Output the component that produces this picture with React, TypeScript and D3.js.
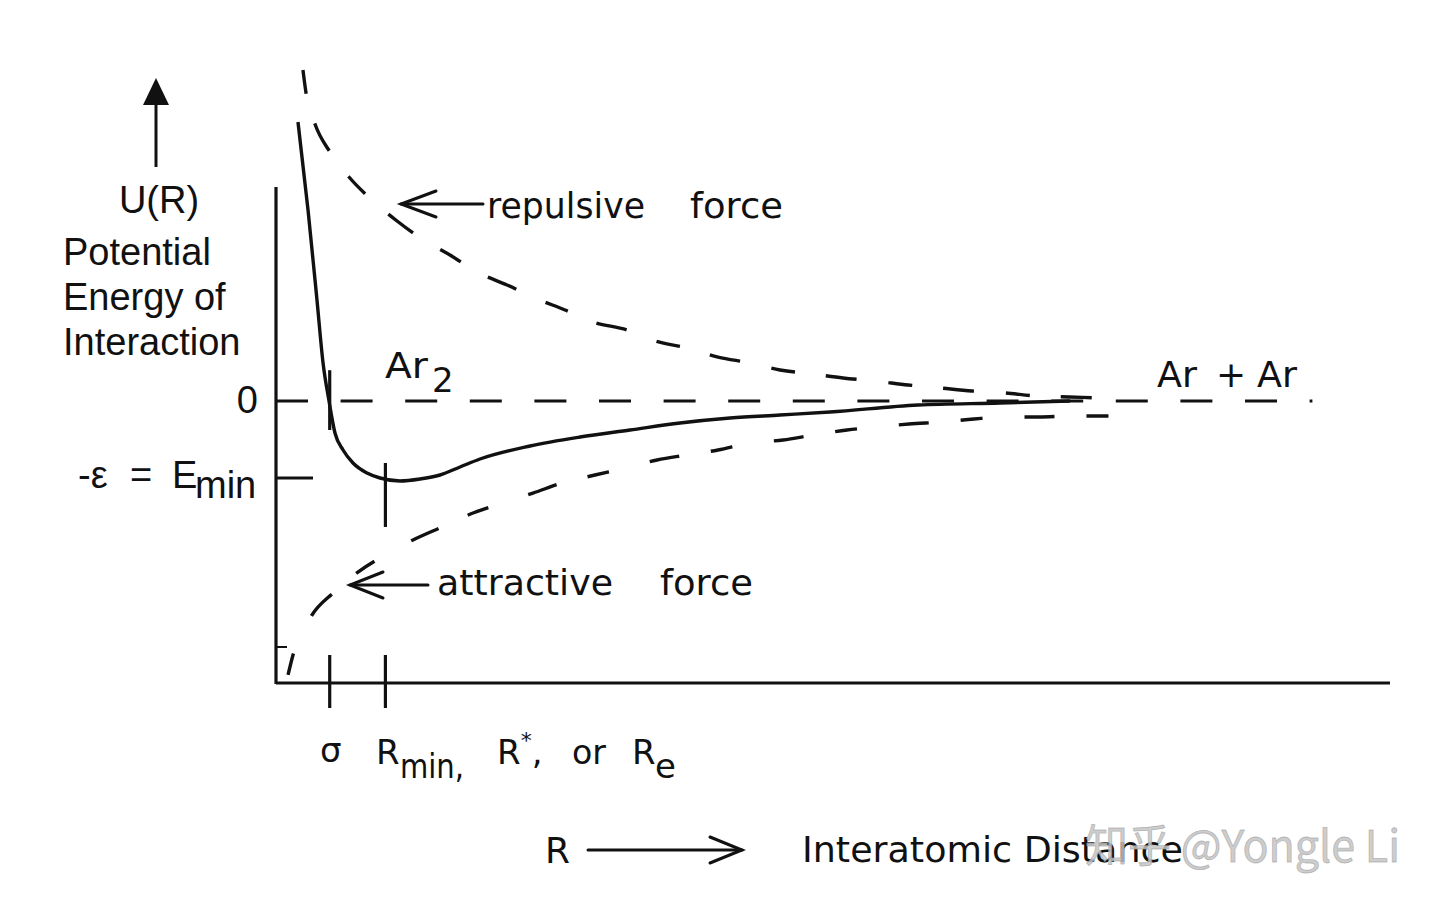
import React from "react";
import * as d3 from "d3";

// Interatomic distance R (Å-like units) and energy U (in units of ε)
const potentialR = [3.021, 3.122, 3.212, 3.273, 3.333, 3.393, 3.474, 3.574, 3.715, 3.846, 4.047, 4.248, 4.449, 4.65, 4.851, 5.354, 5.857, 6.359, 6.862, 7.365, 7.867, 8.37, 9.255, 10.079, 10.783];
const potentialU = [3.623, 2.481, 1.312, 0.494, 0.0, -0.416, -0.636, -0.805, -0.935, -1.0, -1.039, -1.013, -0.961, -0.857, -0.753, -0.584, -0.468, -0.377, -0.286, -0.221, -0.182, -0.143, -0.052, -0.026, 0.0];

const repulsiveR = [3.071, 3.102, 3.192, 3.343, 3.534, 3.765, 4.017, 4.268, 4.549, 4.821, 5.123, 5.404, 5.706, 5.987, 6.329, 6.611, 6.932, 7.244, 7.566, 7.867, 8.199, 8.501, 8.823, 9.154, 9.476, 9.798, 10.13, 10.451, 10.773, 11.095];
const repulsiveU = [4.299, 4.0, 3.597, 3.234, 2.909, 2.61, 2.338, 2.104, 1.896, 1.675, 1.506, 1.338, 1.182, 1.026, 0.922, 0.779, 0.688, 0.571, 0.494, 0.403, 0.351, 0.299, 0.26, 0.208, 0.169, 0.13, 0.104, 0.065, 0.052, 0.039];

const attractiveR = [2.921, 2.971, 3.162, 3.373, 3.624, 3.896, 4.177, 4.469, 4.781, 5.072, 5.384, 5.676, 6.007, 6.309, 6.631, 6.932, 7.244, 7.566, 7.898, 8.199, 8.541, 8.843, 9.164, 9.496, 9.818, 10.14, 10.471, 10.793, 11.316];
const attractiveU = [-3.558, -3.299, -2.779, -2.494, -2.221, -2.0, -1.805, -1.636, -1.455, -1.325, -1.195, -1.065, -0.961, -0.87, -0.766, -0.701, -0.636, -0.545, -0.506, -0.442, -0.377, -0.338, -0.299, -0.273, -0.234, -0.208, -0.208, -0.195, -0.195];

const zeroLineR = [2.8, 13.22];
const sigmaR = 3.34;
const rMinR = 3.9;
const epsU = -1;

const xDomain = [2.8, 14];
const uDomain = [-1, 0];

const yLabelLines = ["Potential", "Energy of", "Interaction"];

const LEFT = 276;
const RIGHT = 1390;
const AXIS_Y = 683;
const AXIS_TOP = 187;

export default function App() {
  const x = d3.scaleLinear().domain(xDomain).range([LEFT, RIGHT]);
  const y = d3.scaleLinear().domain(uDomain).range([478, 401]);

  const zip = (a: number[], b: number[]) => a.map((v, i) => [v, b[i]] as [number, number]);

  const smooth = d3
    .line<[number, number]>()
    .x((d) => x(d[0]))
    .y((d) => y(d[1]))
    .curve(d3.curveMonotoneX);

  const potential = smooth(zip(potentialR, potentialU)) || "";
  const repulsive = smooth(zip(repulsiveR, repulsiveU)) || "";
  const attractive = smooth(zip(attractiveR, attractiveU)) || "";
  const zero = smooth(zeroLineR.map((r) => [r, 0] as [number, number])) || "";

  const sans = "'Liberation Sans', Arial, sans-serif";
  const geo = "'DejaVu Sans', sans-serif";
  const stroke = "#111";

  const xs = x(sigmaR);
  const xr = x(rMinR);

  return (
    <svg
      width={1436}
      height={910}
      style={{ position: "absolute", left: 0, top: 0, background: "#fff" }}
    >
      <rect x={0} y={0} width={1436} height={910} fill="#fff" />

      {/* axes */}
      <line x1={LEFT} y1={AXIS_TOP} x2={LEFT} y2={AXIS_Y + 1} stroke={stroke} strokeWidth={3.2} />
      <line x1={LEFT} y1={AXIS_Y} x2={RIGHT} y2={AXIS_Y} stroke={stroke} strokeWidth={3.2} />
      <line x1={LEFT} y1={647} x2={LEFT + 11} y2={647} stroke={stroke} strokeWidth={2} />

      {/* zero line */}
      <path d={zero} fill="none" stroke={stroke} strokeWidth={3.2} strokeDasharray="32 32.6" />

      {/* -epsilon tick */}
      <line x1={LEFT} y1={y(epsU)} x2={LEFT + 37} y2={y(epsU)} stroke={stroke} strokeWidth={3.2} />

      {/* sigma and Rmin ticks */}
      <line x1={xs} y1={y(0.4)} x2={xs} y2={y(-0.377)} stroke={stroke} strokeWidth={3.2} />
      <line x1={xr} y1={y(-0.805)} x2={xr} y2={y(-1.636)} stroke={stroke} strokeWidth={3.2} />
      <line x1={xs} y1={AXIS_Y - 28} x2={xs} y2={AXIS_Y + 25} stroke={stroke} strokeWidth={3.2} />
      <line x1={xr} y1={AXIS_Y - 28} x2={xr} y2={AXIS_Y + 25} stroke={stroke} strokeWidth={3.2} />

      {/* curves */}
      <path d={repulsive} fill="none" stroke={stroke} strokeWidth={3.4} strokeDasharray="24 31 31 32" />
      <path d={attractive} fill="none" stroke={stroke} strokeWidth={3.4} strokeDasharray="22 42 30 32" />
      <path d={potential} fill="none" stroke={stroke} strokeWidth={3.4} />

      {/* up arrow */}
      <line x1={156} y1={167} x2={156} y2={100} stroke={stroke} strokeWidth={3} />
      <polygon points="156,78 143,105 169,105" fill={stroke} />

      {/* y label */}
      <text x={159} y={213} fontFamily={sans} fontSize={38} textAnchor="middle" fill={stroke}>U(R)</text>
      {yLabelLines.map((t, i) => (
        <text key={t} x={63} y={265 + i * 45} fontFamily={sans} fontSize={38} fill={stroke}>{t}</text>
      ))}
      <text x={258} y={413} fontFamily={sans} fontSize={38} textAnchor="end" fill={stroke}>0</text>
      <text x={78} y={488} fontFamily={sans} fontSize={38} fill={stroke}>-ε</text>
      <text x={130} y={488} fontFamily={sans} fontSize={38} fill={stroke}>=</text>
      <text x={172} y={488} fontFamily={sans} fontSize={38} fill={stroke}>E</text>
      <text x={195} y={498} fontFamily={sans} fontSize={38} fill={stroke}>min</text>

      {/* repulsive label */}
      <g stroke={stroke} strokeWidth={3} fill="none" strokeLinecap="round">
        <line x1={401} y1={204} x2={483} y2={204} />
        <polyline points="436,191 401,204 436,217" />
      </g>
      <text x={487} y={218} fontFamily={geo} fontSize={35} textLength={158} lengthAdjust="spacingAndGlyphs" fill={stroke}>repulsive</text>
      <text x={690} y={218} fontFamily={geo} fontSize={35} textLength={93} lengthAdjust="spacingAndGlyphs" fill={stroke}>force</text>

      {/* attractive label */}
      <g stroke={stroke} strokeWidth={3} fill="none" strokeLinecap="round">
        <line x1={350} y1={585} x2={428} y2={585} />
        <polyline points="383,572 350,585 383,598" />
      </g>
      <text x={437} y={595} fontFamily={geo} fontSize={35} textLength={176} lengthAdjust="spacingAndGlyphs" fill={stroke}>attractive</text>
      <text x={660} y={595} fontFamily={geo} fontSize={35} textLength={93} lengthAdjust="spacingAndGlyphs" fill={stroke}>force</text>

      {/* Ar2 and Ar + Ar */}
      <text x={385} y={378} fontFamily={geo} fontSize={36} textLength={43} lengthAdjust="spacingAndGlyphs" fill={stroke}>Ar</text>
      <text x={432} y={392} fontFamily={geo} fontSize={34} fill={stroke}>2</text>
      <text x={1157} y={387} fontFamily={geo} fontSize={36} textLength={40} lengthAdjust="spacingAndGlyphs" fill={stroke}>Ar</text>
      <text x={1216} y={387} fontFamily={geo} fontSize={36} fill={stroke}>+</text>
      <text x={1257} y={387} fontFamily={geo} fontSize={36} textLength={40} lengthAdjust="spacingAndGlyphs" fill={stroke}>Ar</text>

      {/* bottom tick labels */}
      <text x={320} y={762} fontFamily={geo} fontSize={34} fill={stroke}>σ</text>
      <text x={376} y={764} fontFamily={geo} fontSize={34} fill={stroke}>R</text>
      <text x={400} y={778} fontFamily={geo} fontSize={34} textLength={64} lengthAdjust="spacingAndGlyphs" fill={stroke}>min,</text>
      <text x={497} y={764} fontFamily={geo} fontSize={34} fill={stroke}>
        R<tspan dy={-16} fontSize={22}>*</tspan><tspan dy={16} fontSize={34}>,</tspan>
      </text>
      <text x={572} y={764} fontFamily={geo} fontSize={34} textLength={34} lengthAdjust="spacingAndGlyphs" fill={stroke}>or</text>
      <text x={632} y={764} fontFamily={geo} fontSize={34} fill={stroke}>R</text>
      <text x={655} y={778} fontFamily={geo} fontSize={34} fill={stroke}>e</text>

      {/* x label */}
      <text x={545} y={863} fontFamily={geo} fontSize={36} fill={stroke}>R</text>
      <g stroke={stroke} strokeWidth={3} fill="none" strokeLinecap="round">
        <line x1={588} y1={850} x2={742} y2={850} />
        <polyline points="710,837 742,850 710,863" />
      </g>
      <text x={802} y={862} fontFamily={geo} fontSize={36} textLength={381} lengthAdjust="spacingAndGlyphs" fill={stroke}>Interatomic Distance</text>

      {/* watermark */}
      <text x={1085} y={862} fontFamily="'Noto Sans CJK SC', sans-serif" fontSize={44} textLength={315} lengthAdjust="spacingAndGlyphs" fill="#c4c4c4" fillOpacity={0.85} stroke="#9a9a9a" strokeWidth={0.8} strokeOpacity={0.6}>知乎 @Yongle Li</text>
    </svg>
  );
}
